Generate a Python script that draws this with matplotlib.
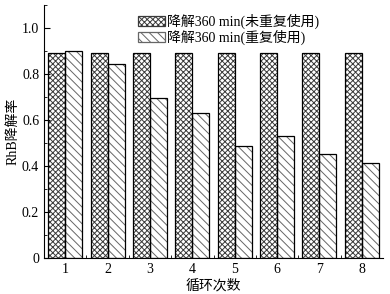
import matplotlib
matplotlib.use("Agg")
import matplotlib.pyplot as plt
import numpy as np
from matplotlib.patches import Patch
from matplotlib.ticker import MultipleLocator, FixedLocator

plt.rcParams['font.family'] = ['Liberation Serif', 'Noto Sans CJK SC']
plt.rcParams['hatch.linewidth'] = 0.7

cycles = [1, 2, 3, 4, 5, 6, 7, 8]
not_reused = [0.893, 0.893, 0.893, 0.893, 0.893, 0.893, 0.893, 0.893]
reused = [0.901, 0.842, 0.694, 0.629, 0.487, 0.530, 0.451, 0.412]
labels = ['降解360 min(未重复使用)', '降解360 min(重复使用)']

fig = plt.figure(figsize=(3.9, 2.94), dpi=100)
ax = fig.add_axes([0.113, 0.122, 0.869, 0.861])

x = np.array(cycles, dtype=float)
w = 0.4
cross_col = '#3a3a3a'
diag_col = '#666666'
# hatch layers
ax.bar(x - w/2, not_reused, w, color='white', edgecolor=cross_col, hatch='xxxxxx', linewidth=0)
ax.bar(x + w/2, reused, w, color='white', edgecolor=diag_col, hatch='\\\\\\\\', linewidth=0)
# outlines
ax.bar(x - w/2, not_reused, w, fill=False, edgecolor='black', linewidth=0.9)
ax.bar(x + w/2, reused, w, fill=False, edgecolor='black', linewidth=0.9)

ax.set_xlim(0.5, 8.5)
ax.set_ylim(0, 1.1)
ax.spines['top'].set_visible(False)
ax.spines['right'].set_visible(False)
ax.set_xticks(cycles)
ax.set_xticklabels([str(c) for c in cycles])
ax.xaxis.set_minor_locator(FixedLocator(np.arange(1.5, 8.5, 1.0)))
ax.set_yticks([0, 0.2, 0.4, 0.6, 0.8, 1.0])
ax.set_yticklabels(['0', '0.2', '0.4', '0.6', '0.8', '1.0'])
ax.yaxis.set_minor_locator(MultipleLocator(0.1))
ax.tick_params(which='both', direction='in', labelsize=10)
ax.tick_params(which='major', length=4)
ax.tick_params(which='minor', length=2)
ax.set_xlabel('循环次数', fontsize=10, labelpad=2)
ax.set_ylabel('RhB降解率', fontsize=10, labelpad=2)

handles = [Patch(facecolor='white', edgecolor=cross_col, hatch='xxxxxx', linewidth=0.9),
           Patch(facecolor='white', edgecolor=diag_col, hatch='\\\\\\\\', linewidth=0.9)]
fig.legend(handles, labels, loc='upper left', bbox_to_anchor=(0.33, 0.985), frameon=False,
           fontsize=10, handlelength=1.9, handleheight=0.7, handletextpad=0.15,
           labelspacing=0.05, borderpad=0.2)

fig.savefig('out.png', dpi=100)
